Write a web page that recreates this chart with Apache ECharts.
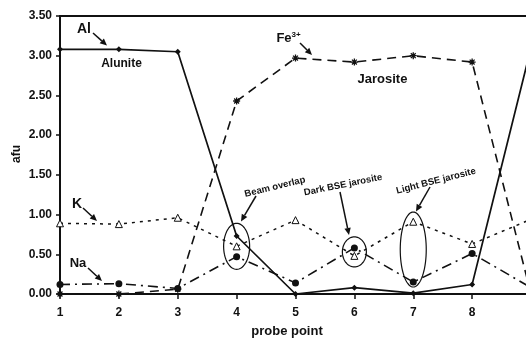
<!DOCTYPE html>
<html>
<head>
<meta charset="utf-8">
<script src="https://cdn.jsdelivr.net/npm/echarts@6/dist/echarts.min.js"></script>
<style>html,body{margin:0;padding:0;background:#fff}#c{width:526px;height:339px}</style>
</head>
<body>
<div id="c"></div>
<script>
// ---- data ----
const probePoints = [1, 2, 3, 4, 5, 6, 7, 8, 9];
const alValues = [3.08, 3.08, 3.05, 0.73, 0.00, 0.08, 0.01, 0.12, 3.10];
const feValues = [0.00, 0.00, 0.06, 2.43, 2.97, 2.92, 3.00, 2.92, 0.00];
const kValues  = [0.89, 0.88, 0.96, 0.60, 0.93, 0.48, 0.91, 0.63, 0.94];
const naValues = [0.12, 0.13, 0.07, 0.47, 0.14, 0.58, 0.15, 0.51, 0.08];
const yTicks = [0, 0.5, 1, 1.5, 2, 2.5, 3, 3.5];
const xTickLabels = ['1', '2', '3', '4', '5', '6', '7', '8'];

const pair = (vals) => probePoints.map((x, i) => [x, vals[i]]);
const FONT = 'Liberation Sans, Arial, sans-serif';
const chart = echarts.init(document.getElementById('c'), null, {renderer: 'canvas'});

const asterisk = 'path://M5,0L5,10M0,5L10,5M1.5,1.5L8.5,8.5M8.5,1.5L1.5,8.5';

chart.setOption({
  animation: false,
  backgroundColor: '#fff',
  grid: {left: 60, right: -5, top: 16, bottom: 45, containLabel: false, outerBoundsMode: 'none'},
  xAxis: [{
    type: 'value', min: 1, max: 9, interval: 1,
    axisLine: {lineStyle: {color: '#111', width: 2}},
    axisTick: {length: 5, lineStyle: {color: '#111', width: 1.5}},
    axisLabel: {color: '#111', fontWeight: 'bold', fontSize: 12, fontFamily: FONT, margin: 13,
      formatter: v => (v >= 1 && v <= 8 ? xTickLabels[v - 1] : '')},
    splitLine: {show: false}
  }, {
    type: 'value', min: 1, max: 9, position: 'top',
    axisLine: {show: true, lineStyle: {color: '#111', width: 2}},
    axisTick: {show: false}, axisLabel: {show: false}, splitLine: {show: false}
  }],
  yAxis: {
    type: 'value', min: 0, max: 3.5, interval: 0.5,
    axisLine: {show: true, lineStyle: {color: '#111', width: 2}},
    axisTick: {show: true, length: 4, lineStyle: {color: '#111', width: 1.5}},
    axisLabel: {color: '#111', fontWeight: 'bold', fontSize: 12, fontFamily: FONT, margin: 8,
      formatter: v => (yTicks.indexOf(v) >= 0 ? v.toFixed(2) : '')},
    splitLine: {show: false}
  },
  series: [
    {name: 'Al', type: 'line', data: pair(alValues), symbol: 'diamond', symbolSize: 6,
      lineStyle: {color: '#111', width: 1.7, type: 'solid'}, itemStyle: {color: '#111'}, z: 5},
    {name: 'Fe3+', type: 'line', data: pair(feValues), symbol: asterisk, symbolSize: 7,
      lineStyle: {color: '#111', width: 1.6, type: [9, 6]},
      itemStyle: {color: 'none', borderColor: '#111', borderWidth: 1.3}, z: 4},
    {name: 'K', type: 'line', data: pair(kValues), symbol: 'triangle', symbolSize: 7,
      lineStyle: {color: '#111', width: 1.5, type: [3, 5]},
      itemStyle: {color: '#fff', borderColor: '#111', borderWidth: 1}, z: 3},
    {name: 'Na', type: 'line', data: pair(naValues), symbol: 'circle', symbolSize: 7,
      lineStyle: {color: '#111', width: 1.6, type: [10, 5, 2, 5]},
      itemStyle: {color: '#111'}, z: 4}
  ]
});

// ---- annotations ----
function arrow(x1, y1, x2, y2) {
  const a = Math.atan2(y2 - y1, x2 - x1), L = 7, W = 3.2;
  const bx = x2 - L * Math.cos(a), by = y2 - L * Math.sin(a);
  const px = -Math.sin(a), py = Math.cos(a);
  return [
    {type: 'line', shape: {x1, y1, x2: bx, y2: by}, style: {stroke: '#111', lineWidth: 1.5}},
    {type: 'polygon', shape: {points: [[x2, y2], [bx + W * px, by + W * py], [bx - W * px, by - W * py]]},
      style: {fill: '#111'}}
  ];
}
function ellipse(cx, cy, rx, ry) {
  const pts = [];
  for (let i = 0; i < 72; i++) {
    const t = i / 72 * Math.PI * 2;
    pts.push([cx + rx * Math.cos(t), cy + ry * Math.sin(t)]);
  }
  return {type: 'polygon', shape: {points: pts}, style: {fill: 'none', stroke: '#111', lineWidth: 1.2}, z: 10};
}
function txt(x, y, text, size, rot) {
  return {type: 'text', x, y, rotation: rot || 0, z: 10,
    style: {text, fontSize: size, fontWeight: 'bold', fontFamily: FONT, fill: '#111',
      align: 'center', verticalAlign: 'middle'}};
}
const p = (x, y) => chart.convertToPixel({xAxisIndex: 0, yAxisIndex: 0}, [x, y]);
const e4 = p(4, 0.6), e6 = p(6, 0.53), e7 = p(7, 0.56);

const els = [].concat(
  [txt(84, 29, 'Al', 14), txt(121.5, 64, 'Alunite', 12)],
  arrow(93, 33, 107, 45.5),
  [txt(284, 38, 'Fe', 13), txt(296, 34.5, '3+', 8)],
  arrow(300, 43, 312, 55),
  [txt(382.5, 79, 'Jarosite', 13)],
  [txt(77, 204, 'K', 14)], arrow(83, 208, 97, 221),
  [txt(78, 263, 'Na', 13)], arrow(88, 268, 102, 281),
  [txt(275, 187, 'Beam overlap', 9.5, 0.24)], arrow(256, 196, 241, 221.5),
  [txt(343, 185, 'Dark BSE jarosite', 9.5, 0.2)], arrow(340, 192, 349, 235),
  [txt(436, 181, 'Light BSE jarosite', 9.5, 0.25)], arrow(430, 187, 416, 211.5),
  [ellipse(e4[0], e4[1], 13, 23), ellipse(e6[0], e6[1], 12, 15), ellipse(e7[0], e7[1], 13, 37.5)],
  [txt(17, 154, 'afu', 12, Math.PI / 2), txt(287, 331, 'probe point', 13)]
);
chart.setOption({graphic: {elements: els}});
</script>
</body>
</html>
